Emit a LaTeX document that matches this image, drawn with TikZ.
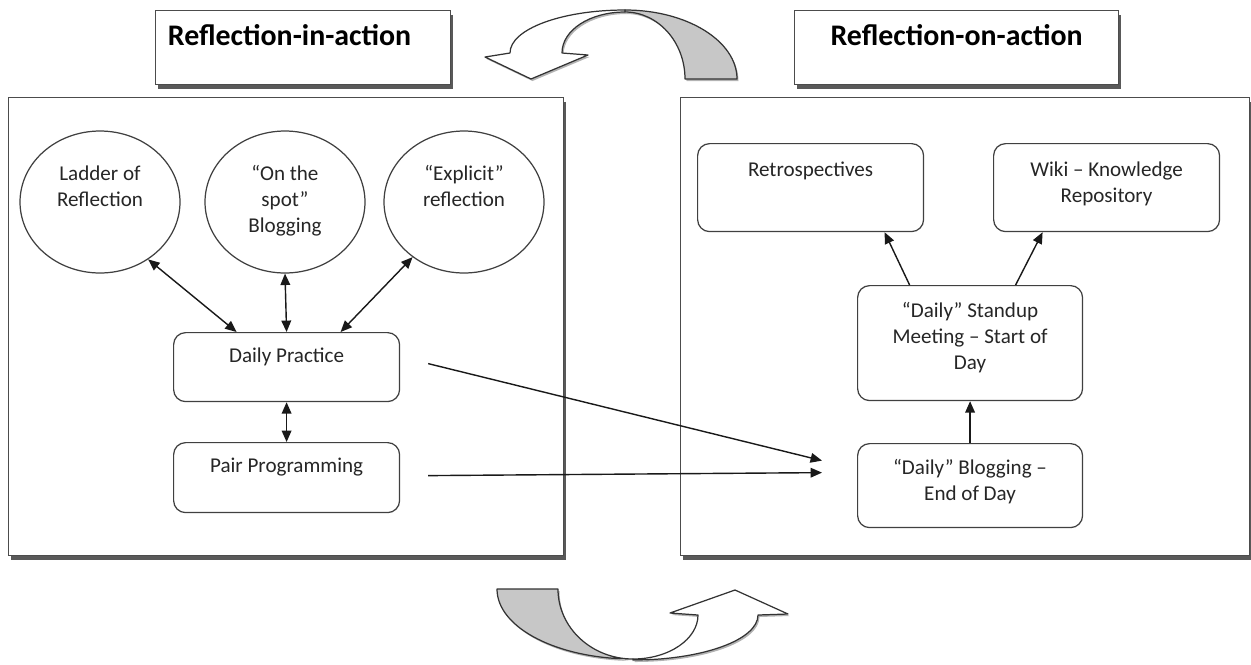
\documentclass[tikz,border=0pt]{standalone}
\usepackage{fontspec}
\setmainfont{Carlito}
\usetikzlibrary{arrows.meta,shapes.geometric,shadows}

\begin{document}
\begin{tikzpicture}[x=0.02cm, y=-0.02cm, font={\fontsize{12}{14.8}\selectfont}, text=black!85]
	\tikzstyle{frame} = [draw=black!70, fill=white, line width=0.7pt, anchor=north west, inner sep=0pt,
		drop shadow={shadow xshift=0.05cm, shadow yshift=-0.08cm, fill=black!65, opacity=1}];
	\tikzstyle{title} = [frame, text=black, font={\bfseries\fontsize{17}{20}\selectfont}, text height=0.7cm, text depth=0.78cm];
	\tikzstyle{idea} = [draw=black!75, ellipse, line width=0.7pt, inner sep=0pt, align=center,
		minimum width=3.2cm, minimum height=2.84cm];
	\tikzstyle{task} = [draw=black!75, rectangle, rounded corners=0.24cm, line width=0.7pt, anchor=north west,
		inner sep=0pt, align=center, minimum width=4.52cm];
	\tikzstyle{link} = [<->, line width=0.8pt, draw=black!90];
	\tikzstyle{feed} = [->, line width=0.8pt, draw=black!90];
	\tikzstyle{turn} = [draw=black!80, line width=0.7pt, line join=round,
		drop shadow={shadow xshift=0.03cm, shadow yshift=-0.04cm, opacity=0.6}];
	\tikzset{>={Triangle[length=6.5pt,width=5.5pt]}}

	\useasboundingbox (0,0) rectangle (1251,664);

	\node[title, minimum width=5.9cm] (intitle) at (155,10) {Reflection-in-action\hspace*{0.54cm}};
	\node[title, minimum width=6.48cm] (ontitle) at (794,10) {Reflection-on-action};

	\node[frame, minimum width=11.1cm, minimum height=9.16cm] (inbox) at (8,97) {};
	\node[frame, minimum width=11.38cm, minimum height=9.16cm] (onbox) at (680,97) {};

	% turning arrows between the two halves
	\path[turn, fill=black!22] (625,10) .. controls (687,10) and (737,41) .. (737,79)
		-- (685,79) .. controls (685,42) and (658,12) .. (625,12) -- cycle;
	\path[turn, fill=white] (510,53) .. controls (510,29) and (562,10) .. (625,10)
		-- (625,12) .. controls (590,12) and (562,30) .. (562,53)
		-- (588,55) -- (531,79) -- (485,57) -- cycle;

	\path[turn, fill=black!22] (497,589) -- (558,589) .. controls (558,628) and (592,659) .. (633,659)
		.. controls (558,659) and (497,628) .. (497,589) -- cycle;
	\path[turn, fill=white] (633,659) .. controls (669,659) and (698,639) .. (698,615)
		-- (670,613) -- (735,590) -- (788,614)
		-- (758,615) .. controls (758,640) and (702,660) .. (633,660) -- cycle;

	% the baseline of a node is its last line, so the depths differ
	\foreach \n/\x/\h/\d/\t in {ladder/100/0.6/0.44/{Ladder of\\Reflection},
			spot/285/1.3/0.09/{“On the\\spot”\\Blogging},
			explicit/464/0.6/0.44/{“Explicit”\\reflection}}
		\node[idea, text height=\h cm, text depth=\d cm] (\n) at (\x,202) {\t};

	\node[task, text height=0.6cm, text depth=0.78cm] (dp) at (173,332) {Daily Practice};
	\node[task, text height=0.6cm, text depth=0.8cm] (pp) at (173,442) {Pair Programming};

	\draw[link] (ladder.-50) -- ([xshift=-1cm]dp.north);
	\draw[link] (spot.south) -- (dp.north);
	\draw[link] (explicit.-133) -- ([xshift=1.08cm]dp.north);
	\draw[link] (dp.south) -- (pp.north);

	\node[task, text height=0.66cm, text depth=1.1cm] (retro) at (697,143) {Retrospectives};
	\node[task, text height=1.18cm, text depth=0.58cm] (wiki) at (993,143) {Wiki – Knowledge\\Repository};
	\node[task, minimum width=4.5cm, text height=1.68cm, text depth=0.62cm] (standup) at (857,285) {“Daily” Standup\\Meeting – Start of\\Day};
	\node[task, minimum width=4.5cm, text height=1.14cm, text depth=0.54cm] (blog) at (857,443) {“Daily” Blogging –\\End of Day};

	\draw[feed] (blog.north) -- (standup.south);
	\draw[feed] ([xshift=-1.21cm]standup.north) -- ([xshift=1.48cm]retro.south);
	\draw[feed] ([xshift=0.91cm]standup.north) -- ([xshift=-1.28cm]wiki.south);

	\draw[feed] ([xshift=0.56cm,yshift=0.07cm]dp.east) -- ([xshift=-0.7cm,yshift=0.5cm]blog.west);
	\draw[feed] ([xshift=0.56cm,yshift=0.04cm]pp.east) -- ([xshift=-0.7cm,yshift=0.26cm]blog.west);
\end{tikzpicture}
\end{document}
